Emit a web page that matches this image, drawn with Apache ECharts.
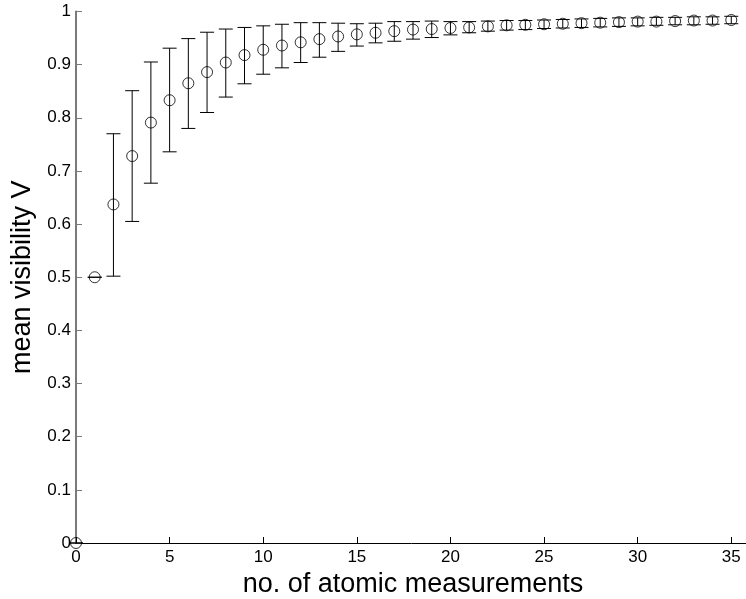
<!DOCTYPE html>
<html>
<head>
<meta charset="utf-8">
<script src="https://cdn.jsdelivr.net/npm/echarts@6/dist/echarts.min.js"></script>
<style>
html,body{margin:0;padding:0;background:#fff;}
#chart{width:746px;height:599px;}
</style>
</head>
<body>
<div id="chart"></div>
<script>
const measurements = [0,1,2,3,4,5,6,7,8,9,10,11,12,13,14,15,16,17,18,19,20,21,22,23,24,25,26,27,28,29,30,31,32,33,34,35];
const meanV = [0,0.5,0.637,0.728,0.791,0.833,0.865,0.886,0.904,0.918,0.928,0.936,0.942,0.948,0.953,0.957,0.960,0.963,0.966,0.967,0.969,0.970,0.972,0.974,0.975,0.976,0.977,0.978,0.979,0.980,0.981,0.981,0.982,0.983,0.983,0.984];
const lowerV = [0,0.5,0.502,0.605,0.677,0.736,0.780,0.810,0.839,0.864,0.882,0.894,0.904,0.914,0.925,0.935,0.941,0.944,0.948,0.951,0.956,0.960,0.963,0.965,0.966,0.968,0.969,0.970,0.971,0.972,0.973,0.974,0.975,0.975,0.976,0.977];
const upperV = [0,0.5,0.770,0.851,0.905,0.931,0.949,0.961,0.967,0.970,0.973,0.976,0.979,0.979,0.978,0.977,0.978,0.981,0.981,0.982,0.981,0.981,0.982,0.983,0.983,0.984,0.985,0.986,0.987,0.988,0.988,0.989,0.989,0.990,0.990,0.991];

const xTitle = 'no. of atomic measurements';
const yTitle = 'mean visibility V';

const pointData = measurements.map((x, i) => [x, meanV[i]]);
const barData = measurements.map((x, i) => [x, lowerV[i], upperV[i]]);

const chart = echarts.init(document.getElementById('chart'), null, {renderer: 'canvas'});
const font = 'Liberation Sans, Arial, Helvetica, sans-serif';

chart.setOption({
  animation: false,
  backgroundColor: '#ffffff',
  grid: {left: 76, right: -4, top: 11.5, bottom: 56, containLabel: false, outerBoundsMode: 'none'},
  xAxis: {
    type: 'value', min: 0, max: 36, interval: 5,
    name: xTitle, nameLocation: 'middle', nameGap: 25,
    nameTextStyle: {fontFamily: font, fontSize: 27, color: '#000'},
    axisLine: {show: true, onZero: false, lineStyle: {color: '#000', width: 1}},
    axisTick: {show: true, inside: true, length: 6, lineStyle: {color: '#000'}},
    axisLabel: {fontFamily: font, fontSize: 17, color: '#000', margin: 6, showMaxLabel: false},
    splitLine: {show: false}
  },
  yAxis: {
    type: 'value', min: 0, max: 1, interval: 0.1,
    name: yTitle, nameLocation: 'middle', nameGap: 36,
    nameTextStyle: {fontFamily: font, fontSize: 27, color: '#000'},
    axisLine: {show: true, onZero: false, lineStyle: {color: '#7a7a7a', width: 2}},
    axisTick: {show: true, inside: true, length: 6, lineStyle: {color: '#7a7a7a'}},
    axisLabel: {fontFamily: font, fontSize: 17, color: '#000', margin: 5},
    splitLine: {show: false}
  },
  series: [
    {
      type: 'custom',
      data: barData,
      clip: false,
      z: 2,
      renderItem: function (params, api) {
        const x = api.value(0);
        const lo = api.coord([x, api.value(1)]);
        const hi = api.coord([x, api.value(2)]);
        const w = 7;
        const st = {stroke: '#000', lineWidth: 1, fill: null};
        return {
          type: 'group',
          children: [
            {type: 'line', shape: {x1: lo[0], y1: lo[1], x2: hi[0], y2: hi[1]}, style: st},
            {type: 'line', shape: {x1: lo[0] - w, y1: lo[1], x2: lo[0] + w, y2: lo[1]}, style: st},
            {type: 'line', shape: {x1: hi[0] - w, y1: hi[1], x2: hi[0] + w, y2: hi[1]}, style: st}
          ]
        };
      }
    },
    {
      type: 'scatter',
      data: pointData,
      symbol: 'circle',
      symbolSize: 11,
      clip: false,
      z: 3,
      itemStyle: {color: 'rgba(0,0,0,0)', borderColor: '#000', borderWidth: 1}
    }
  ]
});
</script>
</body>
</html>
